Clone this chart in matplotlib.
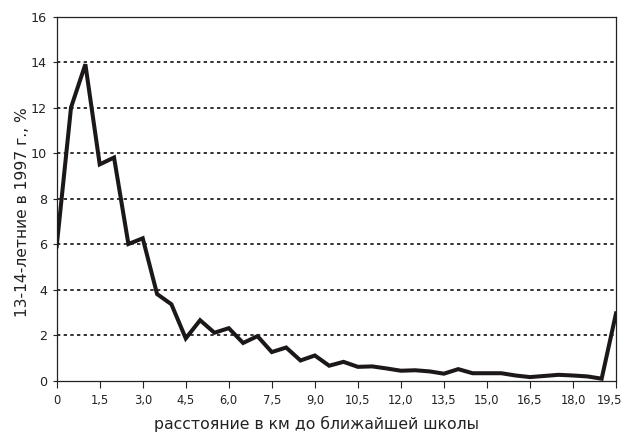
import numpy as np
import matplotlib
matplotlib.use("Agg")
import matplotlib.pyplot as plt
import matplotlib.transforms as mtransforms

plt.rcParams['font.family'] = ['DejaVu Sans']

# distance to nearest school, km (step 0.5)
distance_km = [i * 0.5 for i in range(40)]
# share of 13-14 year olds in 1997, %
share_pct = [5.9, 12.0, 13.9, 9.5, 9.8, 6.0, 6.25, 3.8, 3.35, 1.85,
             2.65, 2.1, 2.3, 1.65, 1.95, 1.25, 1.45, 0.88, 1.1, 0.65,
             0.82, 0.6, 0.62, 0.53, 0.43, 0.45, 0.4, 0.3, 0.5, 0.32,
             0.32, 0.32, 0.22, 0.15, 0.2, 0.25, 0.22, 0.18, 0.08, 2.95]

xtick_vals = [i * 1.5 for i in range(14)]
xtick_labels = ['0'] + [('%.1f' % v).replace('.', ',') for v in xtick_vals[1:]]
ytick_vals = list(range(0, 17, 2))

fig = plt.figure(figsize=(6.25, 4.32), dpi=100)
ax = fig.add_axes([0.0907, 0.1192, 0.8949, 0.8426])

for y in ytick_vals[1:-1]:
    ax.axhline(y, color='#111111', lw=1.2, linestyle=(0, (2, 2)), zorder=1)

ax.plot(distance_km, share_pct, color='#1c1818', lw=2.9, solid_joinstyle='miter', zorder=3)

ax.set_xlim(0, 19.5)
ax.set_ylim(0, 16)
ax.set_xticks(xtick_vals)
ax.set_xticklabels(xtick_labels)
ax.set_yticks(ytick_vals)

for s in ax.spines.values():
    s.set_color('#222222')
    s.set_linewidth(0.9)

ax.tick_params(axis='x', direction='out', length=5, width=0.8, labelsize=8.3, pad=5, colors='#222222')
ax.tick_params(axis='y', direction='out', length=3, width=0.8, labelsize=9.2, pad=4, colors='#222222')

# last x label sits a bit left so it stays inside the picture
last = ax.get_xticklabels()[-1]
last.set_transform(last.get_transform() + mtransforms.ScaledTranslation(-5 / 72, 0, fig.dpi_scale_trans))

ax.set_xlabel('расстояние в км до ближайшей школы', fontsize=11.3, color='#222222')
ax.xaxis.set_label_coords(0.465, -0.118)
ax.xaxis.label.set_va('center')
ax.set_ylabel('13-14-летние в 1997 г., %', fontsize=11.2, color='#222222')
ax.yaxis.set_label_coords(-0.062, 0.463)
ax.yaxis.label.set_va('center')

plt.savefig('out.png', dpi=100)
